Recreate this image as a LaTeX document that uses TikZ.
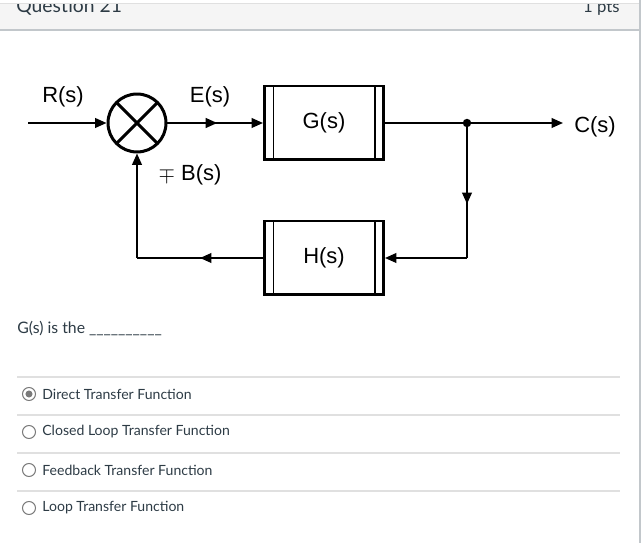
\documentclass[tikz,border=0pt]{standalone}
\usepackage{fontspec}
\usepackage{amsmath}
\setmainfont{Lato}
\newfontfamily\diagfont{Liberation Sans}
\usetikzlibrary{shapes,arrows.meta,decorations.markings}

\definecolor{headfill}{HTML}{F5F5F5}
\definecolor{headrule}{HTML}{C2C7CB}
\definecolor{seprule}{HTML}{E0E0E0}
\definecolor{quiztext}{HTML}{2D3B45}
\definecolor{radiogray}{HTML}{7A7A7A}

\tikzset{
  block/.style={draw, line width=1.7pt, minimum width=2.38cm, minimum height=1.48cm, inner sep=0pt,
    font=\diagfont\fontsize{12.5}{15}\selectfont,
    path picture={
      \draw[line width=1.1pt] ([xshift=0.18cm]path picture bounding box.north west) -- ([xshift=0.18cm]path picture bounding box.south west);
      \draw[line width=1.1pt] ([xshift=-0.17cm]path picture bounding box.north east) -- ([xshift=-0.17cm]path picture bounding box.south east);}},
  sumjn/.style={draw, circle, line width=1.7pt, minimum size=1.16cm, inner sep=0pt,
    path picture={
      \draw[line width=1.7pt] (path picture bounding box.north west) -- (path picture bounding box.south east)
        (path picture bounding box.north east) -- (path picture bounding box.south west);}},
  sig/.style={line width=1.1pt, -{Triangle[length=6.5pt,width=5.5pt]}},
  midarrow/.style={line width=1.1pt, postaction={decorate},
    decoration={markings, mark=at position #1 with {\arrow{Triangle[length=6.5pt,width=5.5pt]}}}},
  midarrow/.default=0.5,
  lbl/.style={font=\diagfont\fontsize{12.5}{15}\selectfont, inner sep=0pt},
  quiz/.style={font=\fontsize{8}{10}\selectfont, text=quiztext, inner sep=0pt},
  radio/.style={draw=radiogray, fill=white, circle, line width=0.6pt, minimum size=0.26cm, inner sep=0pt}
}

\begin{document}
\begin{tikzpicture}[x=0.02cm,y=-0.02cm]
\useasboundingbox (0,0) rectangle (642,543);

% header bar
\fill[headfill] (0,3) rectangle (640,30);
\draw[seprule, line width=0.5pt] (0,3) -- (640,3);
\draw[headrule, line width=0.7pt] (0,30) -- (640,30);
\begin{scope}
\clip (0,5) rectangle (640,30);
\node[anchor=base west, inner sep=0pt, text=quiztext, font=\fontsize{11}{13}\selectfont] (qtitle) at (16,13) {Question 21};
\node[anchor=base east, inner sep=0pt, text=quiztext, font=\fontsize{9.5}{12}\selectfont] (qpts) at (620,13) {1 pts};
\end{scope}
\draw[headrule, line width=0.7pt] (640,0) -- (640,543);

% block diagram
\node[sumjn] (sum) at (137,123) {};
\node[block] (gblk) at (324,123) {G(s)};
\node[block] (hblk) at (324,258) {H(s)};
\coordinate (in) at (28,123);
\coordinate (tap) at (467,123);
\coordinate (out) at (563,123);
\coordinate (tapdn) at (467,258);
\coordinate (fbl) at (137,258);

\draw[sig] (in) -- (sum.west);
\draw[sig, midarrow=0.52] (sum.east) -- (gblk.west);
\draw[sig] (gblk.east) -- (out);
\fill (tap) circle (2.4pt);
\draw[midarrow=0.6] (tap) -- (tapdn);
\draw[sig] (tapdn) -- (hblk.east);
\draw[midarrow=0.5] (hblk.west) -- (fbl);
\draw[sig] (fbl) -- (sum.south);

\node[lbl] (rlbl) at (63,97) {R(s)};
\node[lbl] (elbl) at (210,97) {E(s)};
\node[lbl] (blbl) at (190,175) {$\mp$ B(s)};
\node[lbl] (clbl) at (595,127) {C(s)};

% question
\node[quiz, anchor=west, font=\fontsize{9}{11}\selectfont] (qtext) at (17,329) {G(s) is the \_\_\_\_\_\_\_\_\_\_};
\draw[seprule, line width=0.6pt] (17,377) -- (620,377);
\draw[seprule, line width=0.6pt] (17,415) -- (620,415);
\draw[seprule, line width=0.6pt] (17,453) -- (620,453);
\draw[seprule, line width=0.6pt] (17,491) -- (620,491);

\node[radio] (opta) at (29,394) {};
\fill[radiogray] (opta.center) circle (2pt);
\node[quiz, anchor=west] (ansa) at (42,394) {Direct Transfer Function};
\node[radio] (optb) at (29,432) {};
\node[quiz, anchor=west] (ansb) at (42,432) {Closed Loop Transfer Function};
\node[radio] (optc) at (29,470) {};
\node[quiz, anchor=west] (ansc) at (42,470) {Feedback Transfer Function};
\node[radio] (optd) at (29,508) {};
\node[quiz, anchor=west] (ansd) at (42,508) {Loop Transfer Function};
\end{tikzpicture}
\end{document}
